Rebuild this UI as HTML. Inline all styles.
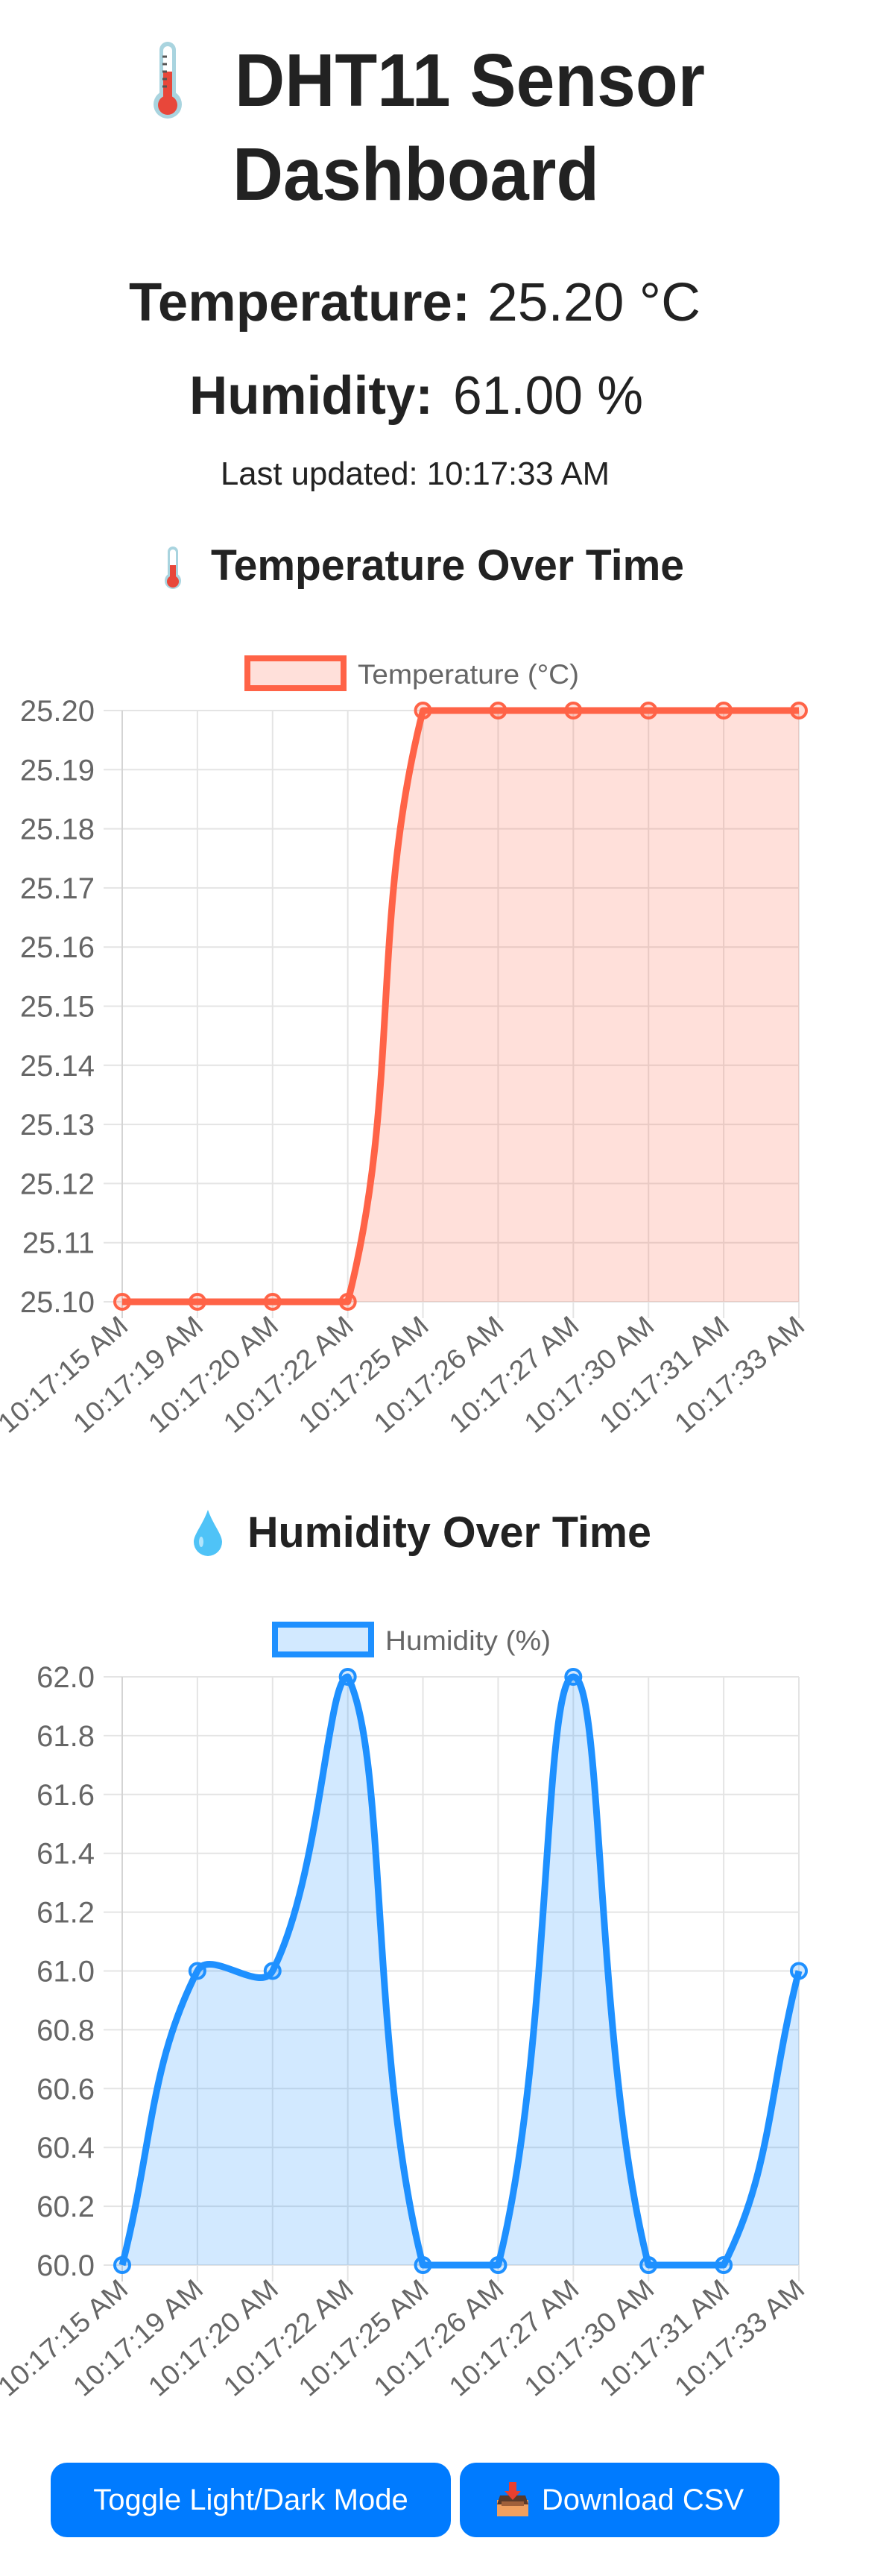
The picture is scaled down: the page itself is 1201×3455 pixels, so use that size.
<!DOCTYPE html>
<html><head><meta charset="utf-8"><title>DHT11 Sensor Dashboard</title>
<style>
html,body{margin:0;padding:0;background:#fff;}
body{width:1201px;height:3455px;overflow:hidden;position:relative;font-family:"Liberation Sans",sans-serif;}
svg{position:absolute;left:0;top:0;}
.btn{position:absolute;background:#007bff;color:#fff;border-radius:22px;font-family:"Liberation Sans",sans-serif;font-size:40px;display:flex;align-items:center;justify-content:center;box-sizing:border-box;}
</style></head>
<body>
<svg id="main" width="1201" height="3455" viewBox="0 0 1201 3455">
  <g>
    <rect x="214" y="56" width="22" height="84" rx="11" fill="#a9d4df"/>
    <circle cx="225" cy="140" r="19" fill="#a9d4df"/>
    <rect x="219" y="62" width="12" height="78" rx="6" fill="#fff"/>
    <rect x="219" y="96" width="12" height="44" fill="#e8473a"/>
    <circle cx="225" cy="141" r="13" fill="#e8473a"/>
    <g stroke="#555" stroke-width="3"><line x1="218" y1="76" x2="224" y2="76"/><line x1="218" y1="86" x2="224" y2="86"/><line x1="218" y1="96" x2="224" y2="96"/><line x1="218" y1="106" x2="224" y2="106"/><line x1="218" y1="116" x2="224" y2="116"/></g>
  </g>
  <text x="315" y="142" font-size="100" font-weight="bold" fill="#222" textLength="631" lengthAdjust="spacingAndGlyphs">DHT11 Sensor</text>
  <text x="312" y="268" font-size="100" font-weight="bold" fill="#222" textLength="492" lengthAdjust="spacingAndGlyphs">Dashboard</text>

  <text x="173" y="430" font-size="72" font-weight="bold" fill="#222" textLength="458" lengthAdjust="spacingAndGlyphs">Temperature:</text>
  <text x="654" y="430" font-size="72" fill="#222" textLength="286" lengthAdjust="spacingAndGlyphs">25.20 °C</text>
  <text x="254" y="555" font-size="72" font-weight="bold" fill="#222" textLength="327" lengthAdjust="spacingAndGlyphs">Humidity:</text>
  <text x="608" y="555" font-size="72" fill="#222" textLength="255" lengthAdjust="spacingAndGlyphs">61.00 %</text>
  <text x="296" y="650" font-size="44" fill="#222" textLength="522" lengthAdjust="spacingAndGlyphs">Last updated: 10:17:33 AM</text>

  <g>
    <rect x="225" y="733" width="14" height="46" rx="7" fill="#a9d4df"/>
    <circle cx="232" cy="779" r="11" fill="#a9d4df"/>
    <rect x="228" y="737" width="8" height="42" rx="4" fill="#fff"/>
    <rect x="228" y="758" width="8" height="22" fill="#e8473a"/>
    <circle cx="232" cy="780" r="8" fill="#e8473a"/>
  </g>
  <text x="283" y="778" font-size="58" font-weight="bold" fill="#222" textLength="635" lengthAdjust="spacingAndGlyphs">Temperature Over Time</text>

  <g>
    <path d="M279 2025 C 272 2045, 260 2058, 260 2068 A 19 19 0 0 0 298 2068 C 298 2058, 286 2045, 279 2025 Z" fill="#4fc3f7"/>
    <ellipse cx="270" cy="2068" rx="3" ry="7" fill="#b3e5fc"/>
  </g>
  <text x="332" y="2075" font-size="58" font-weight="bold" fill="#222" textLength="542" lengthAdjust="spacingAndGlyphs">Humidity Over Time</text>

  <g id="tempChart"></g>
  <g id="humChart"></g>
</svg>

<div class="btn" style="left:68px;top:3303px;width:537px;height:100px;">Toggle Light/Dark Mode</div>
<div class="btn" style="left:617px;top:3303px;width:429px;height:100px;">
  <svg width="46" height="48" viewBox="0 0 46 48" style="position:static;margin-right:16px">
    <rect x="2" y="24" width="42" height="22" fill="#f0a060"/>
    <path d="M6 18 H40 L44 30 H2 Z" fill="#5a3a2a"/>
    <rect x="8" y="26" width="30" height="6" fill="#a0603a"/>
    <rect x="18" y="0" width="10" height="14" fill="#e84030"/>
    <path d="M12 12 H34 L23 24 Z" fill="#e84030"/>
  </svg>
  <span>Download CSV</span>
</div>

<script>
const labels = ["10:17:15 AM","10:17:19 AM","10:17:20 AM","10:17:22 AM","10:17:25 AM","10:17:26 AM","10:17:27 AM","10:17:30 AM","10:17:31 AM","10:17:33 AM"];
const tempValues = [25.10,25.10,25.10,25.10,25.20,25.20,25.20,25.20,25.20,25.20];
const humValues = [60,61,61,62,60,60,62,60,60,61];
const tempTicks = ["25.10","25.11","25.12","25.13","25.14","25.15","25.16","25.17","25.18","25.19","25.20"];
const humTicks = ["60.0","60.2","60.4","60.6","60.8","61.0","61.2","61.4","61.6","61.8","62.0"];
const tempLegend = "Temperature (°C)";
const humLegend = "Humidity (%)";

const NS = "http://www.w3.org/2000/svg";
function mk(tag, attrs, parent){
  const e = document.createElementNS(NS, tag);
  for (const k in attrs) e.setAttribute(k, attrs[k]);
  parent.appendChild(e);
  return e;
}

function drawChart(g, cfg){
  const L = 164, R = 1072, T = cfg.top, B = cfg.bottom;
  const ticks = cfg.ticks;
  const tmin = parseFloat(ticks[0]), tmax = parseFloat(ticks[ticks.length-1]);
  const y = v => B - (v - tmin) / (tmax - tmin) * (B - T);
  const n = labels.length;
  const x = i => L + i * (R - L) / (n - 1);

  const lg = mk('g', {}, g);
  
  
  mk('rect', {x: cfg.legendX+4, y: cfg.legendY+4, width: 129, height: 40, fill: cfg.fill, stroke: cfg.color, 'stroke-width': 8}, lg);
  const lt = mk('text', {x: cfg.legendX+152, y: cfg.legendY+38, 'font-size': 37, fill: '#666', textLength: cfg.legendW, lengthAdjust: 'spacingAndGlyphs'}, lg);
  lt.textContent = cfg.legend;

  ticks.forEach((t, k) => {
    const v = parseFloat(t);
    const yy = y(v);
    const gl = mk('line', {x1: 139, x2: R, y1: yy, y2: yy, stroke: '#e4e4e4', 'stroke-width': 2}, g);
    
    
    const tx = mk('text', {x: 127, y: yy + 14, 'font-size': 40, fill: '#666', 'text-anchor': 'end'}, g);
    
    
    tx.textContent = t;
  });
  labels.forEach((lab, i) => {
    const xx = x(i);
    const vl = mk('line', {x1: xx, x2: xx, y1: T, y2: B + 22, stroke: i === 0 ? '#d4d4d4' : '#e4e4e4', 'stroke-width': 2}, g);
    
    
    const tx = mk('text', {x: 0, y: 0, 'font-size': 37, fill: '#666', 'text-anchor': 'end', textLength: 216, lengthAdjust: 'spacingAndGlyphs', transform: `translate(${xx+10},${B+36}) rotate(-41)`}, g);
    
    
    tx.textContent = lab;
  });

  const vals = cfg.values;
  const pts = vals.map((v, i) => ({x: x(i), y: y(v)}));
  const t = 0.4;
  const cps = pts.map((p, i) => {
    const prev = pts[i-1] || p, next = pts[i+1] || p;
    const d01 = Math.hypot(p.x-prev.x, p.y-prev.y), d12 = Math.hypot(next.x-p.x, next.y-p.y);
    let s01 = d01/(d01+d12), s12 = d12/(d01+d12);
    if (isNaN(s01)) s01 = 0; if (isNaN(s12)) s12 = 0;
    const fa = t*s01, fb = t*s12;
    const cl = (v, a, b) => Math.max(a, Math.min(b, v));
    return {
      px: cl(p.x - fa*(next.x-prev.x), L, R), py: cl(p.y - fa*(next.y-prev.y), T, B),
      nx: cl(p.x + fb*(next.x-prev.x), L, R), ny: cl(p.y + fb*(next.y-prev.y), T, B)
    };
  });
  let d = `M${pts[0].x},${pts[0].y}`;
  for (let i = 1; i < pts.length; i++) {
    d += ` C${cps[i-1].nx},${cps[i-1].ny} ${cps[i].px},${cps[i].py} ${pts[i].x},${pts[i].y}`;
  }
  const area = mk('path', {d: d + ` L${pts[n-1].x},${B} L${pts[0].x},${B} Z`, fill: cfg.fill, stroke: 'none'}, g);
  
  
  const line = mk('path', {d: d, fill: 'none', stroke: cfg.color, 'stroke-width': 9, 'stroke-linejoin': 'round'}, g);
  
  
  pts.forEach((p, i) => {
    const c = mk('circle', {cx: p.x, cy: p.y, r: 10, fill: cfg.fill, stroke: cfg.color, 'stroke-width': 4}, g);
    
    
  });
}

drawChart(document.getElementById('tempChart'), {
  top: 953, bottom: 1746, ticks: tempTicks, values: tempValues,
  color: '#ff6347', fill: 'rgba(255,99,71,0.2)', legend: tempLegend,
  legendX: 328, legendY: 879, legendW: 297
});
drawChart(document.getElementById('humChart'), {
  top: 2249, bottom: 3038, ticks: humTicks, values: humValues,
  color: '#1e90ff', fill: 'rgba(30,144,255,0.2)', legend: humLegend,
  legendX: 365, legendY: 2175, legendW: 222
});
</script>
</body></html>
